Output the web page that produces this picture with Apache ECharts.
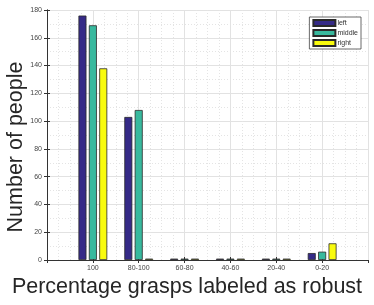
<!DOCTYPE html>
<html><head><meta charset="utf-8">
<script src="https://cdn.jsdelivr.net/npm/echarts@6/dist/echarts.min.js"></script>
<style>html,body{margin:0;padding:0;background:#fff}#c{width:374px;height:305px}</style>
</head><body><div id="c"></div>
<script>
var categories = ['100', '80-100', '60-80', '40-60', '20-40', '0-20'];
var leftVals = [176, 103, 1, 1, 1, 5];
var middleVals = [169, 108, 1, 1, 1, 6];
var rightVals = [138, 1, 1, 1, 1, 12];
var yTicks = [0, 20, 40, 60, 80, 100, 120, 140, 160, 180];
var xTitle = 'Percentage grasps labeled as robust';
var yTitle = 'Number of people';

function toPts(arr) { return arr.map(function (v, i) { return [i + 1, v]; }); }
var font = 'Liberation Sans, Arial, sans-serif';
var chart = echarts.init(document.getElementById('c'), null, {renderer: 'canvas'});
var barStyle = function (c) { return {color: c, borderColor: '#2a2a2a', borderWidth: 0.8}; };
chart.setOption({
  animation: false,
  grid: {left: 47, right: 6, top: 10, bottom: 45, outerBoundsMode: 'none', containLabel: false},
  legend: {
    right: 13, top: 17, orient: 'vertical', itemWidth: 22, itemHeight: 6, itemGap: 2, icon: 'rect',
    padding: [2, 3, 2, 3], borderColor: '#444', borderWidth: 0.8, backgroundColor: '#fff',
    textStyle: {fontSize: 7, color: '#333', fontFamily: font, padding: [0, 0, 0, -3]},
    data: ['left', 'middle', 'right']
  },
  graphic: [
    {type: 'text', left: 'center', top: 276,
      style: {text: xTitle, fontSize: 21.5, fill: '#262626', fontFamily: font}},
    {type: 'text', x: 5, y: 147, rotation: Math.PI / 2,
      style: {text: yTitle, fontSize: 21.5, fill: '#262626', fontFamily: font,
        align: 'center', verticalAlign: 'top'}}
  ],
  xAxis: [{
    type: 'value', min: 0, max: 7, interval: 1,
    axisLine: {show: true, lineStyle: {color: '#333', width: 1}},
    axisTick: {show: true, inside: true, length: 3, lineStyle: {color: '#333'}},
    axisLabel: {fontSize: 7, color: '#444', fontFamily: font, margin: 5, showMaxLabel: false, showMinLabel: false,
      formatter: function (v) { return categories[v - 1] || ''; }},
    splitLine: {show: true, lineStyle: {color: '#e2e2e2', width: 1}},
    minorTick: {show: false, splitNumber: 4},
    minorSplitLine: {show: true, lineStyle: {color: '#e4e4e4', type: [1, 2], width: 1}}
  }, {
    type: 'value', min: 0, max: 7, interval: 1, position: 'top',
    axisLine: {show: true, lineStyle: {color: '#333', width: 1}},
    axisTick: {show: true, inside: true, length: 3, lineStyle: {color: '#333'}},
    axisLabel: {show: false}, splitLine: {show: false}
  }],
  yAxis: [{
    type: 'value', min: 0, max: 180, interval: 20,
    axisLine: {show: true, lineStyle: {color: '#333', width: 1}},
    axisTick: {show: true, inside: true, length: 3, lineStyle: {color: '#333'}},
    axisLabel: {fontSize: 7, color: '#444', fontFamily: font, margin: 5,
      formatter: function (v) { return yTicks.indexOf(v) >= 0 ? String(v) : ''; }},
    splitLine: {show: true, lineStyle: {color: '#e2e2e2', width: 1}},
    minorTick: {show: false, splitNumber: 2},
    minorSplitLine: {show: true, lineStyle: {color: '#e4e4e4', type: [1, 2], width: 1}}
  }, {
    type: 'value', min: 0, max: 180, interval: 20, position: 'right',
    axisLine: {show: true, lineStyle: {color: '#333', width: 1}},
    axisTick: {show: true, inside: true, length: 3, lineStyle: {color: '#333'}},
    axisLabel: {show: false}, splitLine: {show: false}
  }],
  series: [
    {name: 'left', type: 'bar', data: toPts(leftVals), barWidth: 8, barGap: '30%', itemStyle: barStyle('#352a87')},
    {name: 'middle', type: 'bar', data: toPts(middleVals), barWidth: 8, barGap: '30%', itemStyle: barStyle('#38b99e')},
    {name: 'right', type: 'bar', data: toPts(rightVals), barWidth: 8, barGap: '30%', itemStyle: barStyle('#f9fb0e')}
  ]
});
</script></body></html>
